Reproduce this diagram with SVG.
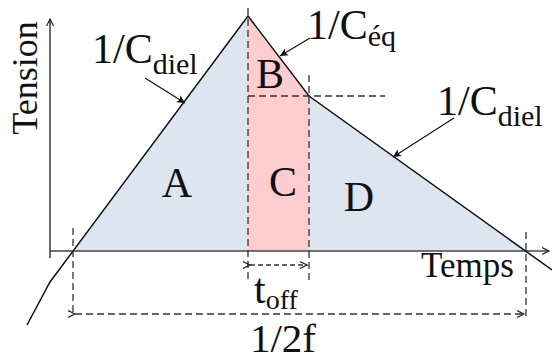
<svg xmlns="http://www.w3.org/2000/svg" width="552" height="361" viewBox="0 0 552 361">
<defs>
<style>
.t{font-family:"Liberation Serif","Times New Roman",serif;fill:#111}
.ln{stroke:#111;stroke-width:1.5;fill:none}
.ax{stroke:#444;stroke-width:1.6;fill:none}
.ds{stroke:#333;stroke-width:1.3;fill:none;stroke-dasharray:7,4}
.blue{fill:#dde5f1}
.pink{fill:#ffcdd0}
</style>
<marker id="lbl" markerWidth="10" markerHeight="10" refX="8" refY="4" orient="auto" markerUnits="userSpaceOnUse">
<path d="M0,0 L8,4 L0,8 L2,4 Z" fill="#111"/>
</marker>
<marker id="open" markerWidth="10" markerHeight="10" refX="7" refY="4" orient="auto" markerUnits="userSpaceOnUse">
<path d="M0,0.5 L7,4 L0,7.5" fill="none" stroke="#222" stroke-width="1.2"/>
</marker>
</defs>
<rect width="552" height="361" fill="#fff"/>
<g id="regions">
<polygon class="blue" points="73,251 248,16 248,251"/>
<polygon class="blue" points="309,96 526,251 309,251"/>
<polygon class="pink" points="248,16 309,96 309,251 248,251"/>
</g>
<g id="axes">
<line class="ax" x1="50" y1="258" x2="50" y2="19" marker-end="url(#open)"/>
<line class="ax" x1="50" y1="251" x2="549" y2="251" marker-end="url(#open)"/>
</g>
<g id="curve">
<polyline class="ln" points="27,325 50,282 248,16 309,96 552,270"/>
</g>
<g id="connectors">
<line class="ds" x1="248" y1="8" x2="248" y2="280"/>
<line class="ds" x1="309" y1="75" x2="309" y2="280"/>
<line class="ds" x1="248" y1="96" x2="385" y2="96"/>
<line class="ds" x1="73" y1="228" x2="73" y2="316"/>
<line class="ds" x1="526" y1="232" x2="526" y2="320"/>
<line class="ds" x1="250" y1="265" x2="307" y2="265" marker-start="url(#open)" marker-end="url(#open)" style="stroke-dasharray:5,3"/>
<line class="ds" x1="75" y1="314" x2="524" y2="314" marker-start="url(#open)" marker-end="url(#open)"/>
<line class="ln" x1="145" y1="78" x2="185" y2="103" marker-end="url(#lbl)" style="stroke-width:1.2"/>
<line class="ln" x1="310" y1="38" x2="280" y2="56" marker-end="url(#lbl)" style="stroke-width:1.2"/>
<line class="ln" x1="454" y1="118" x2="393" y2="157" marker-end="url(#lbl)" style="stroke-width:1.2"/>
</g>
<g id="labels">
<text class="t" font-size="36" transform="translate(37,78) rotate(-90)" text-anchor="middle">Tension</text>
<text class="t" font-size="35" x="421" y="277">Temps</text>
<text class="t" font-size="42" x="92" y="63">1/C<tspan font-size="30" dy="11">diel</tspan></text>
<text class="t" font-size="42" x="307" y="39">1/C<tspan font-size="30" dy="7">éq</tspan></text>
<text class="t" font-size="42" x="437" y="115">1/C<tspan font-size="30" dy="11">diel</tspan></text>
<text class="t" font-size="42" x="177" y="197" text-anchor="middle">A</text>
<text class="t" font-size="42" x="270" y="88" text-anchor="middle">B</text>
<text class="t" font-size="42" x="283" y="196" text-anchor="middle">C</text>
<text class="t" font-size="42" x="359" y="211" text-anchor="middle">D</text>
<text class="t" font-size="42" x="254" y="303">t<tspan font-size="28" dy="6">off</tspan></text>
<text class="t" font-size="41" x="283" y="352" text-anchor="middle">1/2f</text>
</g>
</svg>
